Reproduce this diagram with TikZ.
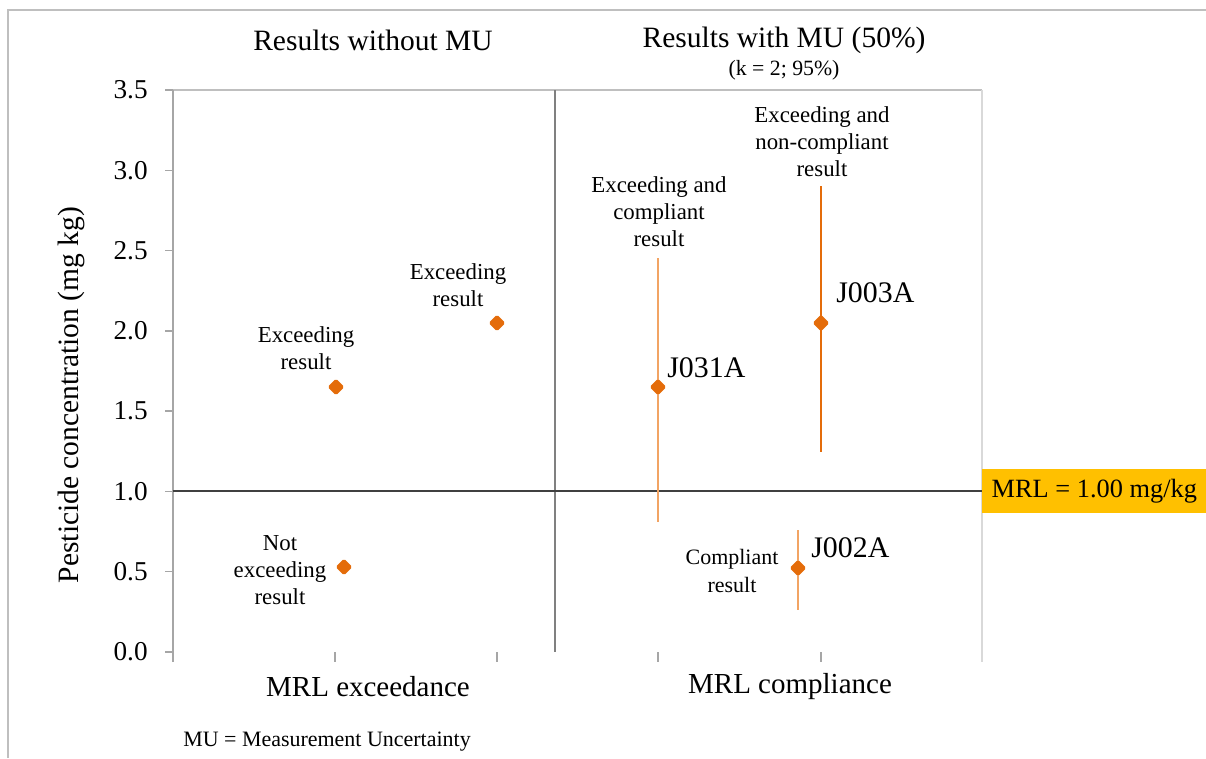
\documentclass[tikz,border=0pt]{standalone}
\usepackage{fontspec}
\setmainfont{Liberation Serif}
\usepackage{tikz}
\usetikzlibrary{shapes.geometric}

\definecolor{markorange}{HTML}{E46C0A}
\definecolor{barlight}{HTML}{F2A464}
\definecolor{mrlyellow}{HTML}{FFC000}
\definecolor{framegray}{HTML}{BFBFBF}
\definecolor{axisgray}{HTML}{A6A6A6}
\definecolor{bordergray}{HTML}{D9D9D9}
\definecolor{divgray}{HTML}{808080}
\definecolor{mrlgray}{HTML}{404040}

\tikzset{
  point/.style={diamond, fill=markorange, inner sep=0pt, minimum size=0.34cm, rounded corners=1pt},
  note/.style={align=center, font=\fontsize{13}{15.3}\selectfont},
  sample/.style={anchor=west, inner sep=0pt, font=\fontsize{17}{19}\selectfont},
  title/.style={font=\fontsize{16.8}{19}\selectfont},
  ticklabel/.style={anchor=east, inner sep=0pt, font=\fontsize{15.5}{17}\selectfont},
  mrlbox/.style={anchor=west, fill=mrlyellow, minimum width=4.48cm, minimum height=0.88cm, font=\fontsize{15}{17}\selectfont}
}

\begin{document}
\begin{tikzpicture}[x=0.02cm, y=-0.02cm]
  \useasboundingbox (0,0) rectangle (1206,758);

  % Frame
  \draw[framegray, line width=0.8pt] (8,758) -- (8,10) -- (1206,10);

  % Plot area
  \draw[framegray, line width=0.6pt] (173,90) -- (982,90);
  \draw[bordergray, line width=1.2pt] (982,90) -- (982,662);
  \draw[axisgray, line width=0.7pt] (173,662) -- (173,90);
  \draw[divgray, line width=0.7pt] (555,90) -- (555,652);

  % Ticks
  \foreach \x in {335,497,658,821}
    \draw[axisgray, line width=0.7pt] (\x,652) -- (\x,662);
  \foreach \y/\t [count=\i] in {652/0.0, 571.7/0.5, 491.4/1.0, 411.1/1.5, 330.9/2.0, 250.6/2.5, 170.3/3.0, 90/3.5} {
    \draw[axisgray, line width=0.7pt] (165,\y) -- (173,\y);
    \node[ticklabel] (tick\i) at (148,\y) {\t};
  }

  % MRL line and box
  \node[mrlbox] (mrl) at (982,491) {MRL = 1.00 mg/kg};
  \coordinate (mrlstart) at (173,491);
  \draw[mrlgray, line width=1.1pt] (mrlstart) -- (mrl.west);

  % Error bars
  \coordinate (j031top) at (658,258);
  \coordinate (j031bot) at (658,522);
  \coordinate (j003top) at (821,186);
  \coordinate (j003bot) at (821,452);
  \coordinate (j002top) at (798,530);
  \coordinate (j002bot) at (798,610);
  \draw[barlight, line width=0.85pt] (j031top) -- (j031bot);
  \draw[markorange, line width=1.1pt] (j003top) -- (j003bot);
  \draw[barlight, line width=0.85pt] (j002top) -- (j002bot);

  % Points
  \node[point] (exc1) at (336,387) {};
  \node[point] (exc2) at (497,323) {};
  \node[point] (notexc) at (344,567) {};
  \node[point] (j031) at (658,387) {};
  \node[point] (j003) at (821,323) {};
  \node[point] (j002) at (798,568) {};

  % Labels
  \node[note] (excnote1) at (306,348) {Exceeding\\result};
  \node[note] (excnote2) at (458,285) {Exceeding\\result};
  \node[note] (notexcnote) at (280,570) {Not\\exceeding\\result};
  \node[note] (compnote) at (659,212) {Exceeding and\\compliant\\result};
  \node[note] (noncompnote) at (822,142) {Exceeding and\\non-compliant\\result};
  \node[note, font=\fontsize{12.5}{16}\selectfont] (compres) at (732,571) {Compliant\\result};
  \node[sample] (j031name) at (667,368) {J031A};
  \node[sample] (j003name) at (836,293) {J003A};
  \node[sample] (j002name) at (811,548) {J002A};

  % Titles
  \node[title] (withoutmu) at (373,40) {Results without MU};
  \node[title] (withmu) at (784,40) {Results with MU (50\%)};
  \node[font=\fontsize{12.4}{14}\selectfont] (kfactor) at (784,70) {(k = 2; 95\%)};
  \node[font=\fontsize{16.5}{18}\selectfont] (exceedance) at (368,687) {MRL exceedance};
  \node[font=\fontsize{16.5}{18}\selectfont] (compliance) at (790,687) {MRL compliance};
  \node[font=\fontsize{12.5}{14}\selectfont] (munote) at (327,742) {MU = Measurement Uncertainty};
  \node[rotate=90, font=\fontsize{16.8}{20}\selectfont] (ylabel) at (71,395) {Pesticide concentration (mg kg)};
\end{tikzpicture}
\end{document}
